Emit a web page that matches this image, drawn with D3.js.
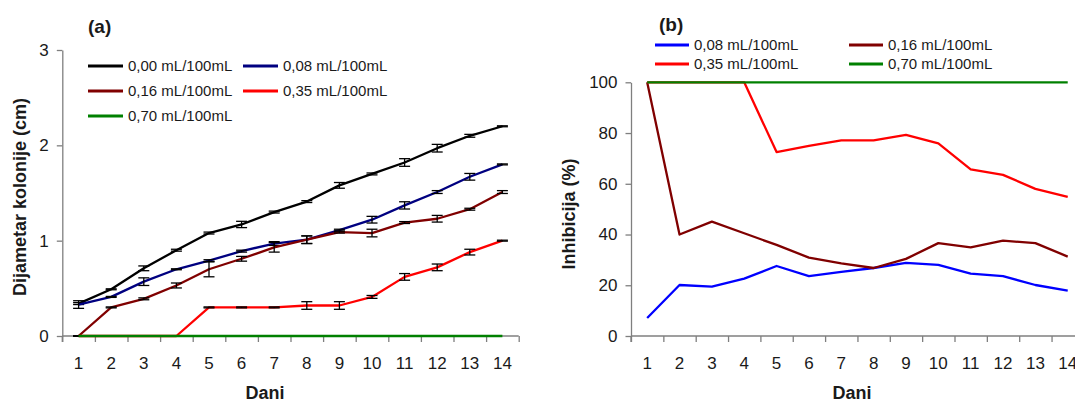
<!DOCTYPE html>
<html>
<head>
<meta charset="utf-8">
<script src="https://cdn.jsdelivr.net/npm/d3@7"></script>
<style>
  body { margin: 0; background: #fff; }
  svg { display: block; font-family: "Liberation Sans", Arial, sans-serif; }
</style>
</head>
<body>
<svg id="chart" width="1075" height="402"></svg>
<script>
// ---- data ----
const days = [1, 2, 3, 4, 5, 6, 7, 8, 9, 10, 11, 12, 13, 14];
const concLabels = ["0,00 mL/100mL", "0,08 mL/100mL", "0,16 mL/100mL", "0,35 mL/100mL", "0,70 mL/100mL"];

// colony diameter (cm) and standard deviation
const diam000 = [0.34, 0.49, 0.71, 0.90, 1.08, 1.17, 1.30, 1.41, 1.58, 1.70, 1.82, 1.97, 2.10, 2.20];
const err000  = [0.01, 0.005, 0.025, 0.01, 0.01, 0.033, 0.01, 0.01, 0.03, 0.01, 0.04, 0.04, 0.015, 0.005];
const diam008 = [0.33, 0.41, 0.57, 0.70, 0.79, 0.89, 0.97, 1.01, 1.11, 1.22, 1.37, 1.51, 1.67, 1.80];
const err008  = [0.04, 0.005, 0.04, 0.005, 0.01, 0.01, 0.02, 0.04, 0.01, 0.035, 0.038, 0.015, 0.035, 0.005];
const diam016 = [0, 0.30, 0.39, 0.53, 0.70, 0.81, 0.93, 1.01, 1.09, 1.08, 1.19, 1.23, 1.33, 1.51];
const err016  = [0, 0.005, 0.01, 0.026, 0.079, 0.025, 0.05, 0.04, 0.01, 0.04, 0.01, 0.035, 0.01, 0.015];
const diam035 = [0, 0, 0, 0, 0.30, 0.30, 0.30, 0.32, 0.32, 0.41, 0.62, 0.72, 0.88, 1.00];
const err035  = [0, 0, 0, 0, 0.005, 0.005, 0.005, 0.04, 0.04, 0.015, 0.035, 0.035, 0.03, 0.005];
const diam070 = [0, 0, 0, 0, 0, 0, 0, 0, 0, 0, 0, 0, 0, 0];

// growth inhibition (%)
const inh008 = [7.1, 20.1, 19.5, 22.6, 27.6, 23.6, 25.3, 26.8, 28.8, 28.0, 24.6, 23.6, 20.1, 17.9];
const inh016 = [100, 40.0, 45.1, 40.5, 35.9, 30.9, 28.6, 26.8, 30.4, 36.6, 34.9, 37.6, 36.6, 31.3];
const inh035 = [100, 100, 100, 100, 72.5, 74.9, 77.1, 77.1, 79.3, 75.9, 65.7, 63.5, 58.0, 54.8];
const inh070 = [100, 100, 100, 100, 100, 100, 100, 100, 100, 100, 100, 100, 100, 100];

const ticksA = [0, 1, 2, 3];
const ticksB = [0, 20, 40, 60, 80, 100];

const svg = d3.select("#chart");
const AXIS = "#7f7f7f";
const LBL = "#1a1a1a";
const FONT = "Liberation Sans, Arial, sans-serif";

// ---- shared helpers ----
function drawXAxis(g, x0, x1, yBase, xBand) {
  const bounds = d3.scaleLinear().domain([0, days.length]).range([x0, x1]);
  const ax = g.append("g").attr("transform", `translate(0,${yBase})`)
    .call(d3.axisBottom(bounds).tickValues(d3.range(days.length + 1)).tickFormat("").tickSize(6).tickSizeOuter(0));
  ax.select(".domain").remove();
  ax.selectAll("line").attr("stroke", AXIS).attr("stroke-width", 1.3);
  g.append("line").attr("x1", x0).attr("x2", x1).attr("y1", yBase).attr("y2", yBase)
    .attr("stroke", AXIS).attr("stroke-width", 1.3);
  const lab = g.append("g").attr("transform", `translate(0,${yBase})`)
    .call(d3.axisBottom(xBand).tickSize(0).tickPadding(21));
  lab.select(".domain").remove();
  lab.selectAll("text").attr("font-size", 17).attr("fill", LBL).attr("font-family", FONT);
}

function drawYAxis(g, xPos, y, tv) {
  const ax = g.append("g").attr("transform", `translate(${xPos},0)`)
    .call(d3.axisLeft(y).tickValues(tv).tickFormat(d3.format("d")).tickSize(5.5).tickPadding(8).tickSizeOuter(0));
  ax.select(".domain").attr("stroke", AXIS).attr("stroke-width", 1.3);
  ax.selectAll("line").attr("stroke", AXIS).attr("stroke-width", 1.3);
  ax.selectAll("text").attr("font-size", 17).attr("fill", LBL).attr("font-family", FONT);
  // the vertical axis continues down through the first x tick
  g.append("line").attr("x1", xPos).attr("x2", xPos)
    .attr("y1", y(tv[0])).attr("y2", y(tv[0]) + 6).attr("stroke", AXIS).attr("stroke-width", 1.3);
}

function legend(g, items, positions, lineW, rowFont) {
  items.forEach((it, i) => {
    const [lx, ly] = positions[i];
    g.append("line").attr("x1", lx).attr("x2", lx + lineW).attr("y1", ly).attr("y2", ly)
      .attr("stroke", it.color).attr("stroke-width", 3);
    g.append("text").attr("x", lx + lineW + 5).attr("y", ly + 5.3)
      .attr("font-size", rowFont).attr("fill", LBL).text(it.label);
  });
}

// ---- panel (a): colony diameter ----
const gA = svg.append("g");
const xA = d3.scaleBand().domain(days).range([62.3, 518.7]).padding(0);
const yA = d3.scaleLinear().domain([0, 3]).range([336, 50]);
const cxA = d => xA(d) + xA.bandwidth() / 2;

drawYAxis(gA, 62.3, yA, ticksA);
drawXAxis(gA, 62.3, 518.7, 336, xA);

const seriesA = [
  { label: concLabels[0], color: "#000000", vals: diam000, err: err000 },
  { label: concLabels[1], color: "#000080", vals: diam008, err: err008 },
  { label: concLabels[2], color: "#800000", vals: diam016, err: err016 },
  { label: concLabels[3], color: "#ff0000", vals: diam035, err: err035 },
  { label: concLabels[4], color: "#008000", vals: diam070, err: null }
];

const lineA = d3.line().x((v, i) => cxA(days[i])).y(v => yA(v));
seriesA.forEach(s => {
  gA.append("path").datum(s.vals).attr("d", lineA)
    .attr("fill", "none").attr("stroke", s.color).attr("stroke-width", 2.3)
    .attr("stroke-linejoin", "round");
  if (s.err) {
    const eb = gA.append("g");
    s.vals.forEach((v, i) => {
      const cx = cxA(days[i]);
      const yHi = yA(v + s.err[i]), yLo = yA(v - s.err[i]);
      eb.append("line").attr("x1", cx).attr("x2", cx).attr("y1", yHi).attr("y2", yLo)
        .attr("stroke", "#000").attr("stroke-width", 1.3);
      [yHi, yLo].forEach(yy => eb.append("line").attr("x1", cx - 5.5).attr("x2", cx + 5.5)
        .attr("y1", yy).attr("y2", yy).attr("stroke", "#000").attr("stroke-width", 1.3));
    });
  }
});

legend(gA, seriesA, [[88, 66], [243, 66], [88, 91], [243, 91], [88, 116]], 35, 15);

gA.append("text").attr("x", 88).attr("y", 33).attr("font-size", 19).attr("font-weight", "bold")
  .attr("fill", LBL).text("(a)");
gA.append("text").attr("transform", "translate(26,197) rotate(-90)").attr("text-anchor", "middle")
  .attr("font-size", 18).attr("font-weight", "bold").attr("fill", LBL).text("Dijametar kolonije (cm)");
gA.append("text").attr("x", 265).attr("y", 399).attr("text-anchor", "middle")
  .attr("font-size", 18).attr("font-weight", "bold").attr("fill", LBL).text("Dani");

// ---- panel (b): inhibition ----
const gB = svg.append("g");
const xB = d3.scaleBand().domain(days).range([631, 1083.9]).padding(0);
const yB = d3.scaleLinear().domain([0, 100]).range([336, 82.3]);
const cxB = d => xB(d) + xB.bandwidth() / 2;

drawYAxis(gB, 631, yB, ticksB);
drawXAxis(gB, 631, 1083.9, 336, xB);

const seriesB = [
  { label: concLabels[1], color: "#0000ff", vals: inh008 },
  { label: concLabels[2], color: "#800000", vals: inh016 },
  { label: concLabels[3], color: "#ff0000", vals: inh035 },
  { label: concLabels[4], color: "#008000", vals: inh070 }
];
const lineB = d3.line().x((v, i) => cxB(days[i])).y(v => yB(v));
seriesB.forEach(s => {
  gB.append("path").datum(s.vals).attr("d", lineB)
    .attr("fill", "none").attr("stroke", s.color).attr("stroke-width", 2.3)
    .attr("stroke-linejoin", "round");
});

legend(gB, seriesB, [[655, 45], [849, 45], [655, 64], [849, 64]], 34, 15);

gB.append("text").attr("x", 659).attr("y", 31).attr("font-size", 19).attr("font-weight", "bold")
  .attr("fill", LBL).text("(b)");
gB.append("text").attr("transform", "translate(575,214) rotate(-90)").attr("text-anchor", "middle")
  .attr("font-size", 18).attr("font-weight", "bold").attr("fill", LBL).text("Inhibicija (%)");
gB.append("text").attr("x", 852).attr("y", 399).attr("text-anchor", "middle")
  .attr("font-size", 18).attr("font-weight", "bold").attr("fill", LBL).text("Dani");
</script>
</body>
</html>
